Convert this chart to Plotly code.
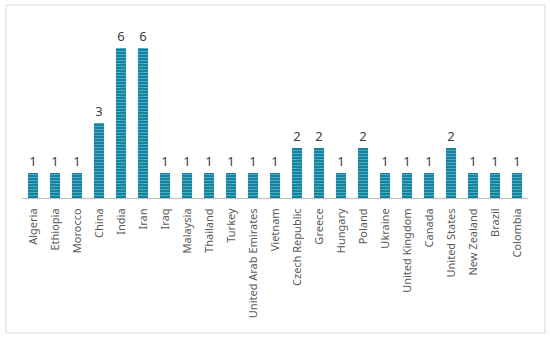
import plotly.graph_objects as go

countries = ["Algeria", "Ethiopia", "Morocco", "China", "India", "Iran", "Iraq",
             "Malaysia", "Thailand", "Turkey", "United Arab Emirates", "Vietnam",
             "Czech Republic", "Greece", "Hungary", "Poland", "Ukraine",
             "United Kingdom", "Canada", "United States", "New Zealand", "Brazil",
             "Colombia"]
counts = [1, 1, 1, 3, 6, 6, 1, 1, 1, 1, 1, 1, 2, 2, 1, 2, 1, 1, 1, 2, 1, 1, 1]

fig = go.Figure(go.Bar(
    x=countries, y=counts,
    text=counts, textposition="outside",
    textfont=dict(size=13, color="#404040", family="Noto Sans"),
    cliponaxis=False,
    width=0.46,
    marker=dict(
        color="#1a89a6",
        line=dict(width=0),
        pattern=dict(shape="-", fgcolor="#3fb0cf", bgcolor="#136f88",
                     size=3, solidity=0.5, fillmode="replace"),
    ),
))

W, H = 550, 337
ml, mr, mt, mb = 22, 22, 23, 139
pw, ph = W - ml - mr, H - mt - mb

def px2paper_x(px):
    return (px - ml) / pw

def px2paper_y(py):
    return (H - mb - py) / ph

fig.update_layout(
    width=W, height=H,
    margin=dict(l=ml, r=mr, t=mt, b=mb, autoexpand=False),
    paper_bgcolor="white", plot_bgcolor="white",
    showlegend=False,
    font=dict(family="Noto Sans", color="#595959"),
    xaxis=dict(
        tickangle=-90, tickfont=dict(size=11, color="#595959"),
        showline=True, linecolor="#bfbfbf", linewidth=1,
        showgrid=False, ticks="", ticklen=0, automargin=False,
        ticklabelstandoff=5,
    ),
    yaxis=dict(range=[0, 7], visible=False, showgrid=False, zeroline=False),
    shapes=[dict(
        type="rect", xref="paper", yref="paper",
        x0=px2paper_x(6), x1=px2paper_x(545),
        y0=px2paper_y(333), y1=px2paper_y(5),
        line=dict(color="#d9d9d9", width=1), fillcolor="rgba(0,0,0,0)",
        layer="below",
    )],
)

fig.write_html("out.html", config={"displayModeBar": False},
               post_script="document.body.style.margin='0';document.body.style.overflow='hidden';")
